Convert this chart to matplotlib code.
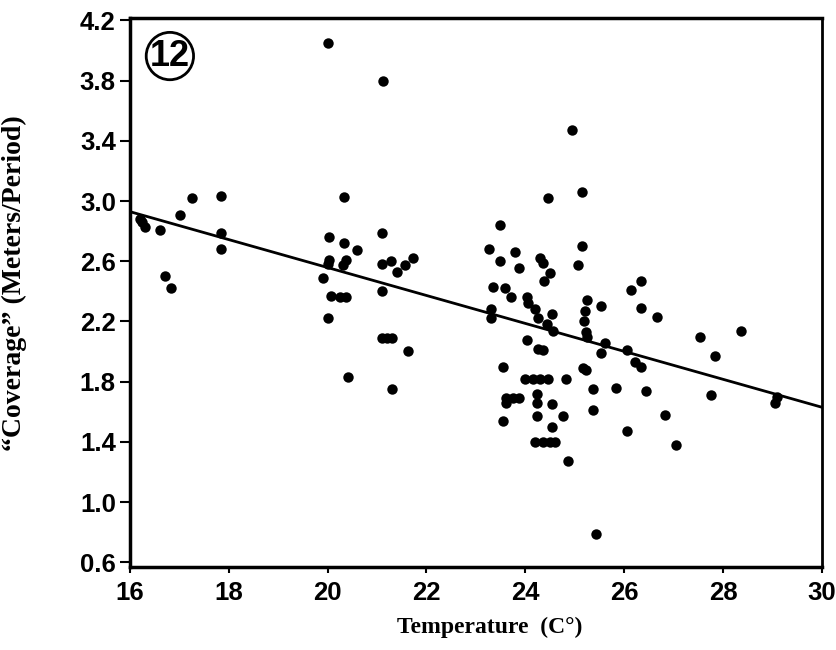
import matplotlib
matplotlib.use("Agg")
import matplotlib.pyplot as plt

# temperature (C) and coverage (m/period)
temp = [
    16.20, 16.30, 16.25, 16.62, 16.71, 16.84, 17.01, 17.25, 17.85, 17.85, 17.85,
    19.91, 20.01, 20.33, 20.03, 20.34, 20.59, 21.11, 20.04, 20.02, 20.38, 20.32,
    20.08, 20.25, 20.38, 21.11, 20.01, 20.42, 21.12, 21.11, 21.29, 21.41, 21.56,
    21.72, 21.10, 21.20, 21.30, 21.62, 21.31,
    24.94, 25.15, 24.46, 23.49, 23.27, 23.79, 23.49, 23.87, 24.30, 24.36, 24.38,
    24.50, 25.15, 25.07, 23.35, 23.59, 23.72, 24.04, 24.06, 24.19, 24.26, 24.55,
    24.43, 24.56, 25.24, 25.20, 25.18, 25.22, 25.25, 25.54, 23.31, 23.31, 24.03,
    24.26, 24.35, 25.61, 25.54, 23.55, 25.17, 25.22, 24.00, 24.15, 24.30, 24.45,
    24.83, 25.36, 25.83, 23.62, 23.75, 23.88, 23.62, 24.24, 24.24, 24.54, 25.36,
    23.55, 24.24, 24.77, 24.55, 24.20, 24.35, 24.50, 24.60, 24.86, 25.43,
    26.35, 26.14, 26.35, 26.67, 27.53, 28.37, 26.05, 26.22, 26.35, 27.84, 26.44,
    27.75, 29.05, 29.10, 26.82, 26.05, 27.05,
]
coverage = [
    2.88, 2.83, 2.86, 2.81, 2.50, 2.42, 2.91, 3.02, 3.035, 2.79, 2.68,
    2.49, 4.05, 3.03, 2.76, 2.72, 2.675, 2.79, 2.61, 2.58, 2.61, 2.575,
    2.37, 2.36, 2.36, 2.405, 2.22, 1.83, 3.80, 2.58, 2.60, 2.53, 2.575,
    2.62, 2.09, 2.09, 2.09, 2.005, 1.75,
    3.47, 3.06, 3.02, 2.84, 2.68, 2.66, 2.60, 2.555, 2.62, 2.59, 2.47,
    2.52, 2.70, 2.575, 2.43, 2.42, 2.365, 2.365, 2.32, 2.28, 2.22, 2.25,
    2.18, 2.14, 2.34, 2.27, 2.20, 2.13, 2.10, 2.30, 2.28, 2.22, 2.08,
    2.02, 2.01, 2.06, 1.99, 1.90, 1.89, 1.88, 1.82, 1.82, 1.82, 1.82,
    1.82, 1.75, 1.755, 1.69, 1.69, 1.69, 1.66, 1.72, 1.66, 1.65, 1.61,
    1.54, 1.57, 1.57, 1.50, 1.40, 1.40, 1.40, 1.40, 1.27, 0.79,
    2.47, 2.41, 2.29, 2.23, 2.10, 2.14, 2.01, 1.93, 1.90, 1.97, 1.74,
    1.71, 1.66, 1.70, 1.58, 1.47, 1.38,
]

# regression line end points
fit_x = [16, 30]
fit_y = [2.93, 1.63]

x_ticks = [16, 18, 20, 22, 24, 26, 28, 30]
y_ticks = [0.6, 1.0, 1.4, 1.8, 2.2, 2.6, 3.0, 3.4, 3.8, 4.2]

fig = plt.figure(figsize=(8.37, 6.5), dpi=100)
ax = fig.add_axes([0.155, 0.128, 0.827, 0.844])

ax.plot(temp, coverage, "o", color="black", markersize=7.5, markeredgewidth=0)
ax.plot(fit_x, fit_y, color="black", linewidth=2)

ax.set_xlim(16, 30)
ax.set_ylim(0.57, 4.215)
ax.set_xticks(x_ticks)
ax.set_yticks(y_ticks)
ax.set_yticklabels([f"{v:.1f}" for v in y_ticks])

for lab in ax.get_xticklabels() + ax.get_yticklabels():
    lab.set_fontfamily("Liberation Sans")
    lab.set_fontweight("bold")
    lab.set_fontsize(18.5)
ax.tick_params(axis="x", direction="out", length=4, width=1.5, pad=6)
ax.tick_params(axis="y", direction="out", length=7, width=1.5, pad=3)

for side in ["left", "bottom", "top"]:
    ax.spines[side].set_linewidth(2.5)
ax.spines["right"].set_linewidth(2)

ax.set_xlabel("Temperature  (C°)", family="Liberation Serif", weight="bold",
              size=17)
ax.xaxis.set_label_coords(0.52, -0.092)
ax.set_ylabel("“Coverage” (Meters/Period)", family="Liberation Serif",
              weight="bold", size=20)
ax.yaxis.set_label_coords(-0.148, 0.517)

ax.text(0.058, 0.931, "12", transform=ax.transAxes, ha="center", va="center",
        family="Liberation Sans", weight="bold", size=26,
        bbox=dict(boxstyle="circle,pad=0.1", facecolor="white",
                  edgecolor="black", linewidth=2))

fig.savefig("out.png", dpi=100)
